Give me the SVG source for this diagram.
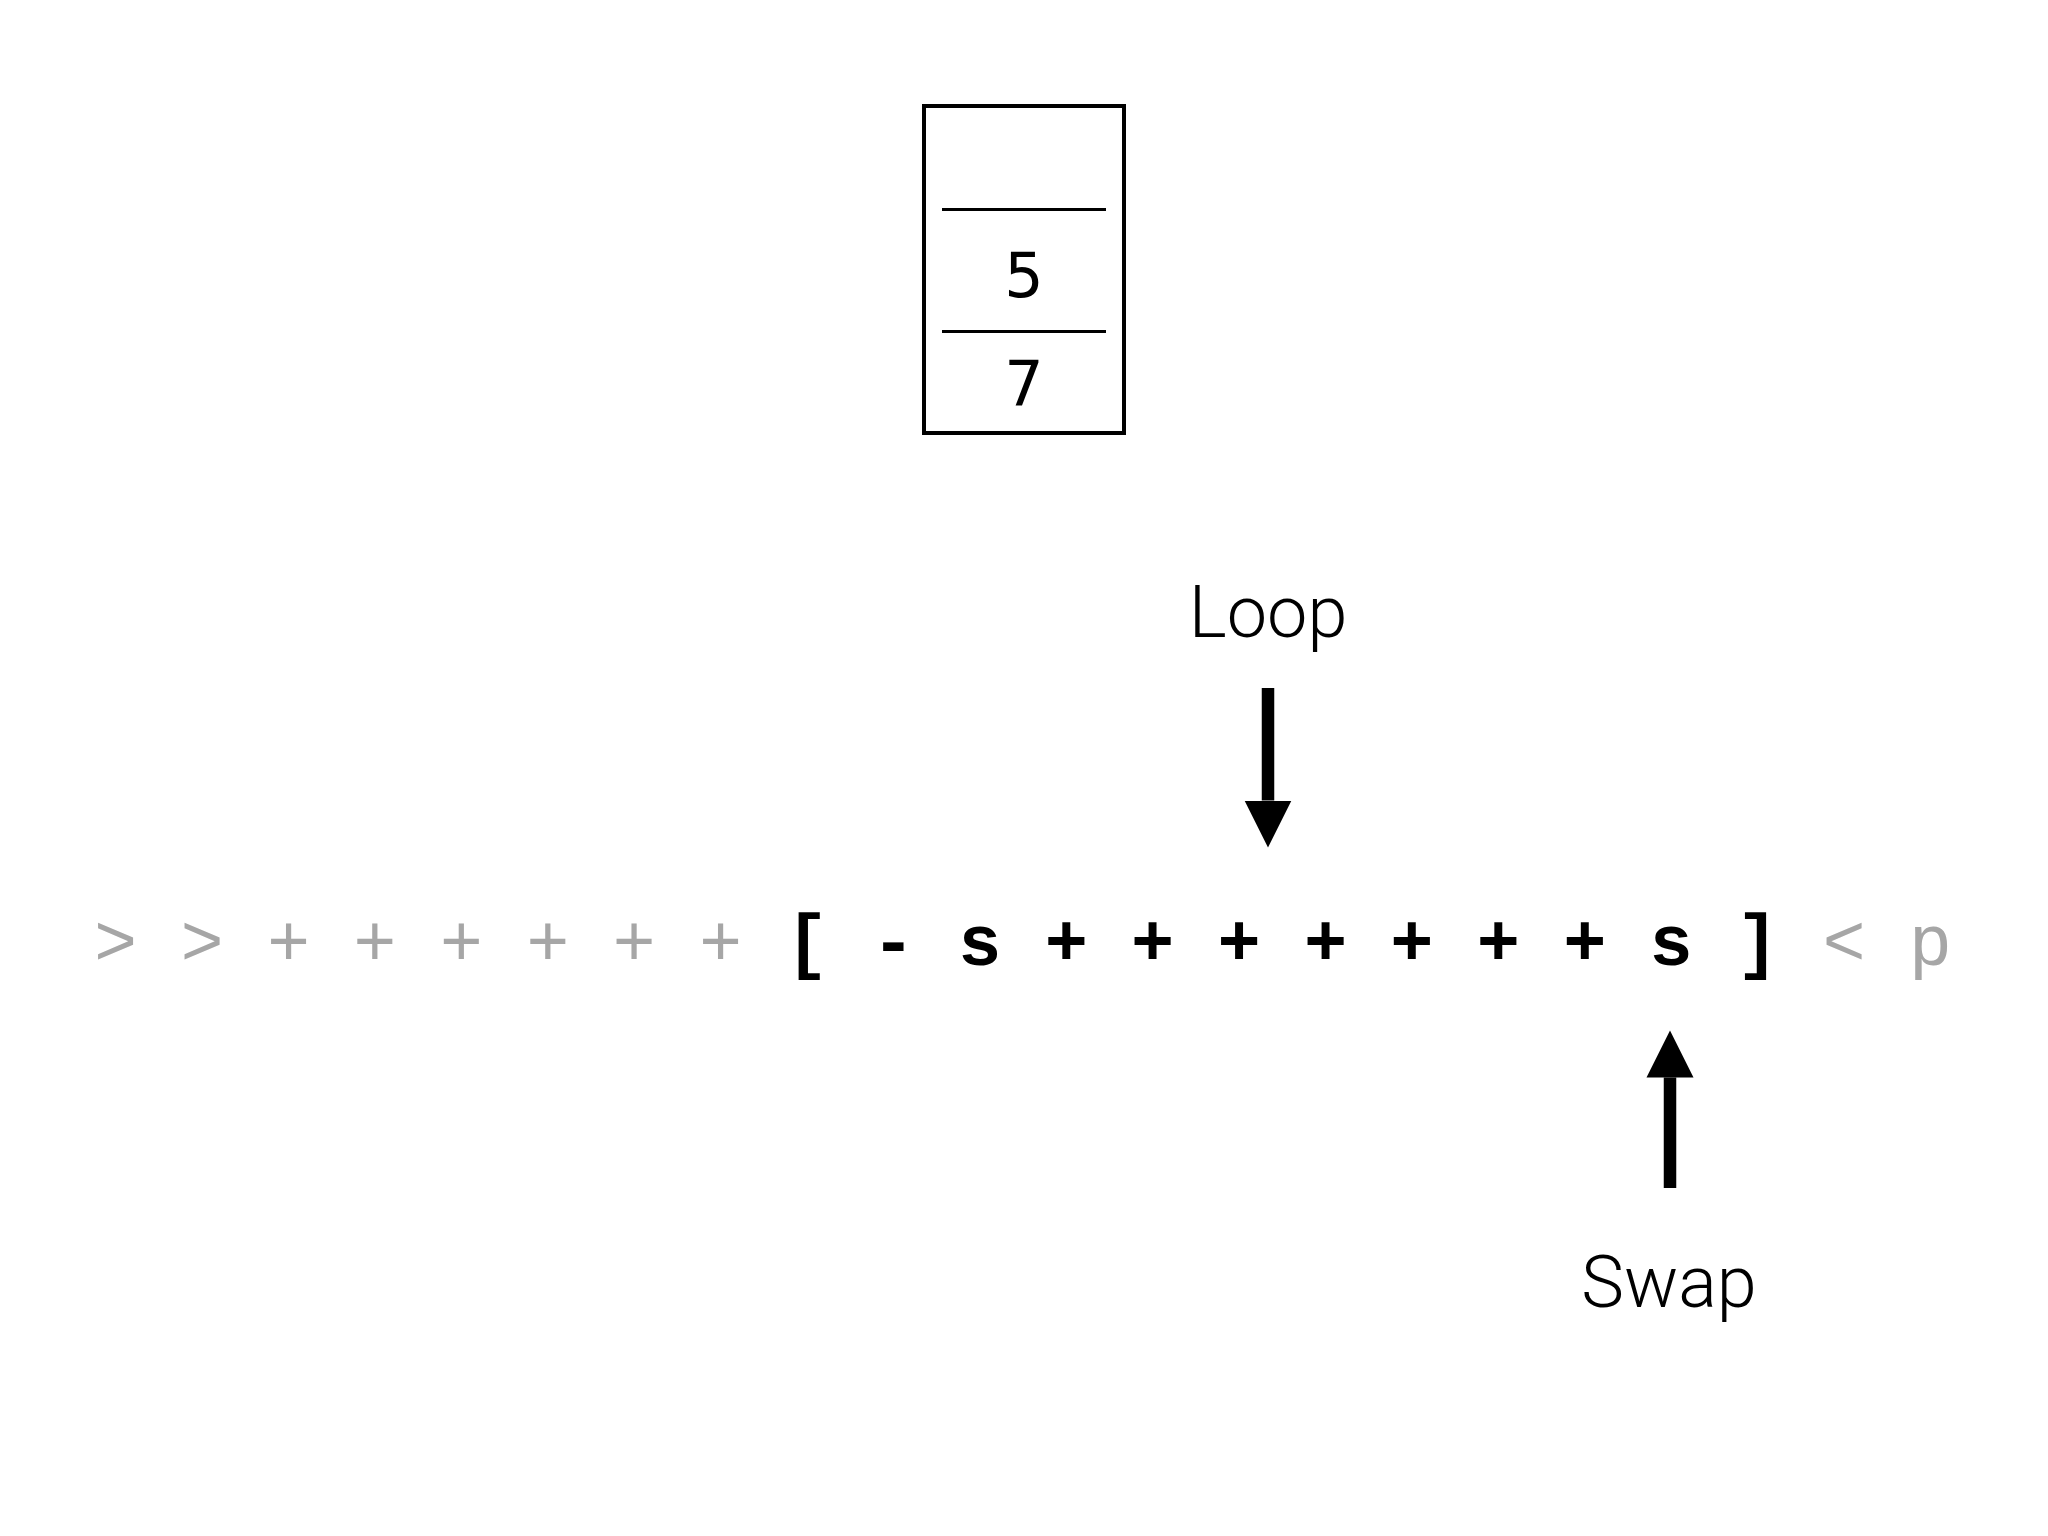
<svg xmlns="http://www.w3.org/2000/svg" width="2048" height="1536" viewBox="0 0 2048 1536">
  <style>
    .bg { fill: #ffffff; }
    .cell { fill: none; stroke: #000; stroke-width: 4; }
    .div { stroke: #000; stroke-width: 3; }
    .num { font-family: "DejaVu Sans", "Liberation Sans", sans-serif; font-size: 62px; fill: #000; text-anchor: middle; }
    .code { font-family: "Liberation Mono", "DejaVu Sans Mono", monospace; font-size: 72px; }
    .dim { fill: #a6a6a6; font-weight: normal; }
    .hot { fill: #000; font-weight: bold; }
    .label { font-family: Roboto, "Liberation Sans", sans-serif; font-weight: 300; font-size: 72px; fill: #000; text-anchor: middle; }
    .shaft { stroke: #000; stroke-width: 12.5; fill: none; }
  </style>
  <defs>
    <marker id="head" viewBox="0 -24 48 48" markerWidth="48" markerHeight="48" refX="0" refY="0" markerUnits="userSpaceOnUse" orient="auto">
      <path d="M0,-23.5 L47,0 L0,23.5 z" fill="#000"/>
    </marker>
  </defs>
  <rect class="bg" x="0" y="0" width="2048" height="1536"/>

  <g id="stack">
    <rect class="cell" x="924" y="106" width="200" height="327"/>
    <line class="div" x1="942" y1="209.5" x2="1106" y2="209.5"/>
    <line class="div" x1="942" y1="331.5" x2="1106" y2="331.5"/>
    <text class="num" x="1024" y="296.5">5</text>
    <text class="num" x="1024" y="405">7</text>
  </g>

  <g id="program">
    <text class="code" x="94.1" y="965" xml:space="preserve"><tspan class="dim">&gt; &gt; + + + + + + </tspan><tspan class="hot">[ - s + + + + + + + s ] </tspan><tspan class="dim">&lt; p</tspan></text>
  </g>

  <g id="loop-label">
    <text class="label" x="1268" y="637">Loop</text>
  </g>

  <g id="swap-label">
    <text class="label" x="1669" y="1307">Swap</text>
  </g>

  <g id="connectors">
    <line class="shaft" x1="1268" y1="688" x2="1268" y2="800.5" marker-end="url(#head)"/>
    <line class="shaft" x1="1670" y1="1188" x2="1670" y2="1077.5" marker-end="url(#head)"/>
  </g>
</svg>
